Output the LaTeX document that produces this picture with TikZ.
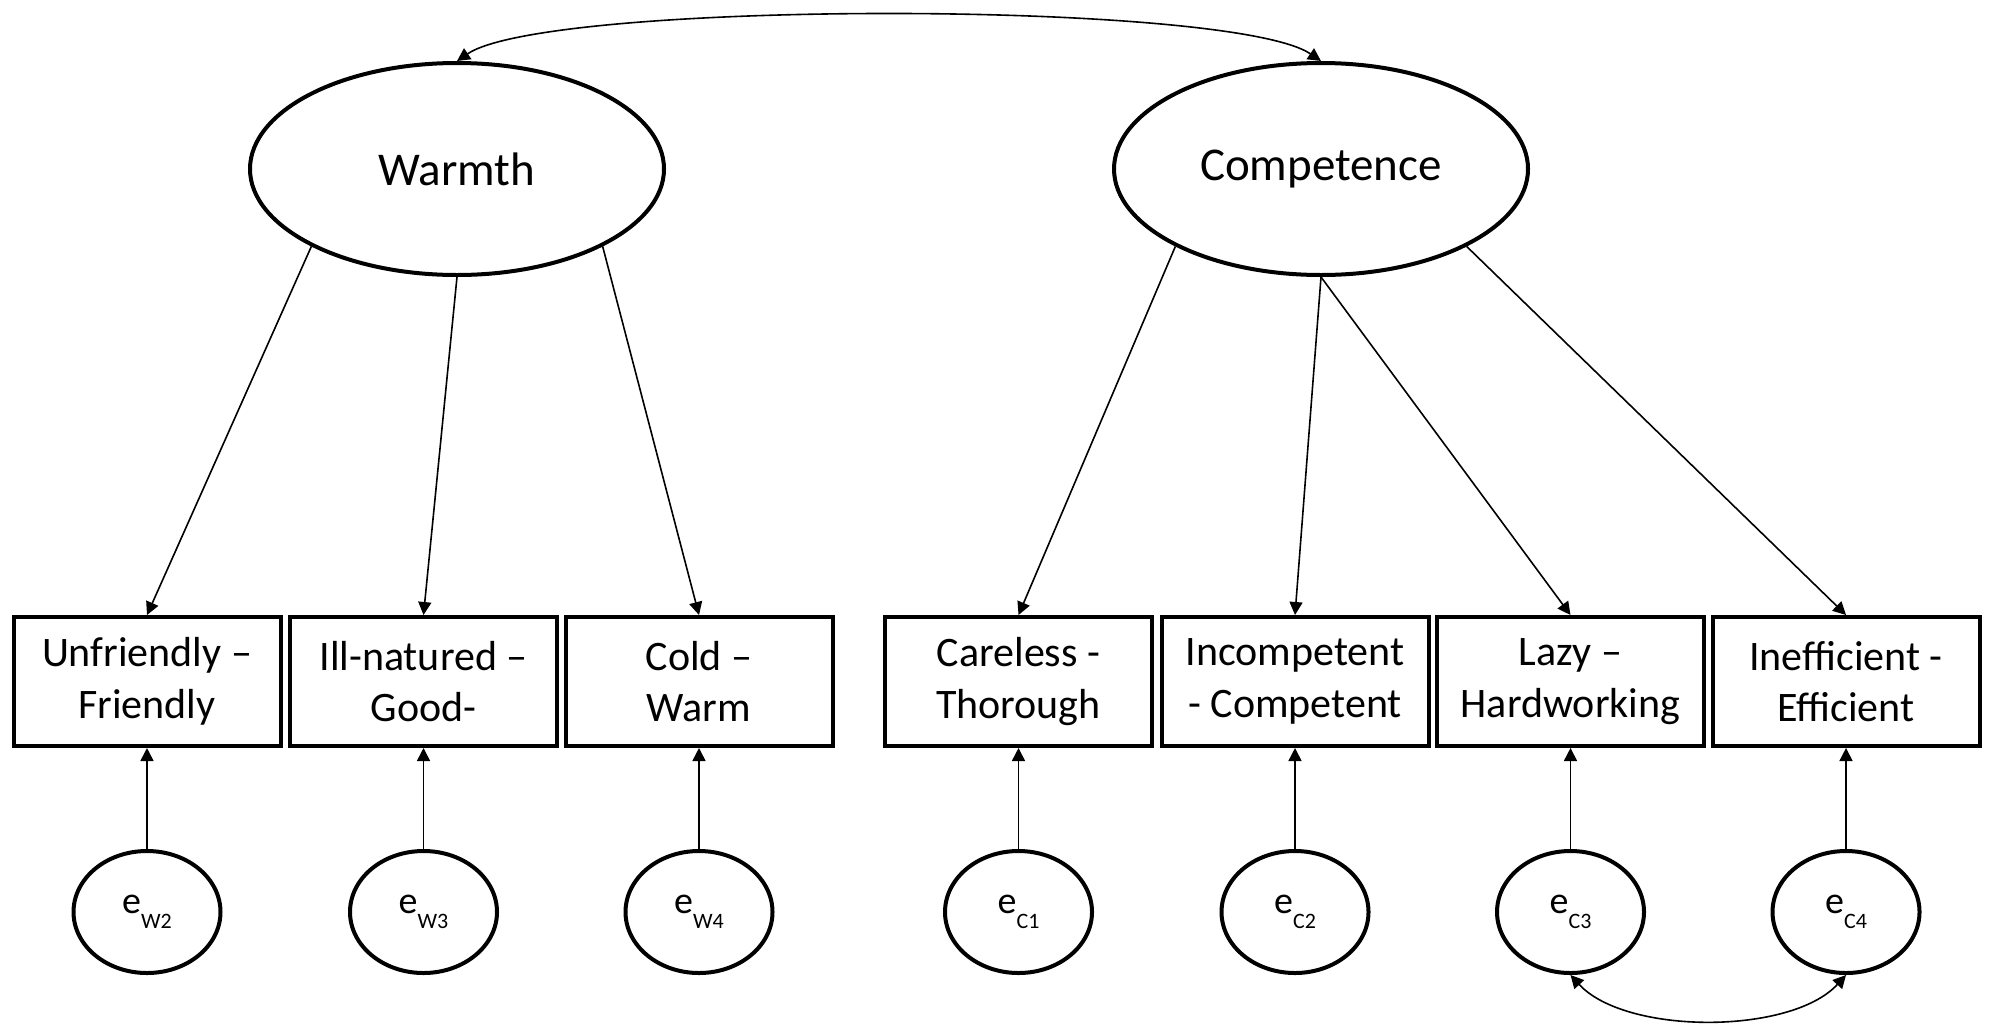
\documentclass[tikz,border=0pt]{standalone}
\usepackage{fontspec}
\setmainfont{Carlito}
\usetikzlibrary{shapes.geometric,arrows.meta}
\newcommand\errlab[1]{{\fontsize{19}{22}\selectfont e\raisebox{-7.5pt}{\fontsize{11}{13}\selectfont #1}}}
\begin{document}
\begin{tikzpicture}[x=0.5pt,y=-0.5pt,
  latent/.style={draw, line width=2pt, ellipse, minimum width=207pt, minimum height=106pt, inner sep=0pt, font=\fontsize{23.5}{28}\selectfont},
  errnode/.style={draw, line width=2pt, ellipse, minimum width=73.5pt, minimum height=61pt, inner sep=0pt},
  obs/.style={draw, line width=2pt, rectangle, minimum width=133.5pt, minimum height=64.5pt, inner sep=0pt, align=center, font=\fontsize{21}{25.8}\selectfont},
  tip/.tip={Triangle[length=6.5pt,width=6.5pt]},
  conn/.style={line width=0.8pt, -tip},
  cov/.style={line width=0.8pt, tip-tip}
]
\fill[white] (0,0) rectangle (1989,1023);
\useasboundingbox (0,0) rectangle (1989,1023);

% latent factors
\node[latent] (W) at (457,169) {Warmth};
\node[latent] (C) at (1321,169) {Competence};

% observed indicators
\node[obs] (b1) at (147,681.5)  {Unfriendly –\\Friendly};
\node[obs] (b2) at (423.5,681.5) {Ill-natured –\\Good-};
\node[obs] (b3) at (699,681.5)  {Cold –\\Warm};
\node[obs] (b4) at (1018.5,681.5) {Careless -\\Thorough};
\node[obs] (b5) at (1295,681.5) {Incompetent\\- Competent};
\node[obs] (b6) at (1570.5,681.5) {Lazy –\\Hardworking};
\node[obs] (b7) at (1846,681.5) {Inefficient -\\Efficient};

% error terms
\node[errnode] (e1) at (147,912)    {\errlab{W2}};
\node[errnode] (e2) at (423.5,912)  {\errlab{W3}};
\node[errnode] (e3) at (699,912)    {\errlab{W4}};
\node[errnode] (e4) at (1018.5,912) {\errlab{C1}};
\node[errnode] (e5) at (1295,912)   {\errlab{C2}};
\node[errnode] (e6) at (1570.5,912) {\errlab{C3}};
\node[errnode] (e7) at (1846,912)   {\errlab{C4}};

% loadings
\draw[conn] (W.208) -- (b1.north);
\draw[conn] (W.south) -- (b2.north);
\draw[conn] (W.332) -- (b3.north);
\draw[conn] (C.208) -- (b4.north);
\draw[conn] (C.south) -- (b5.north);
\draw[conn] (C.south) -- (b6.north);
\draw[conn] (C.332) -- (b7.north);

% errors
\foreach \i in {1,...,7} {\draw[conn] (e\i.north) -- (b\i.south);}

% covariances
\draw[cov] (W.north) .. controls +(90,-61) and +(-90,-61) .. (C.north);
\draw[cov] (e6.south) .. controls +(55,60) and +(-55,60) .. (e7.south);
\end{tikzpicture}
\end{document}
